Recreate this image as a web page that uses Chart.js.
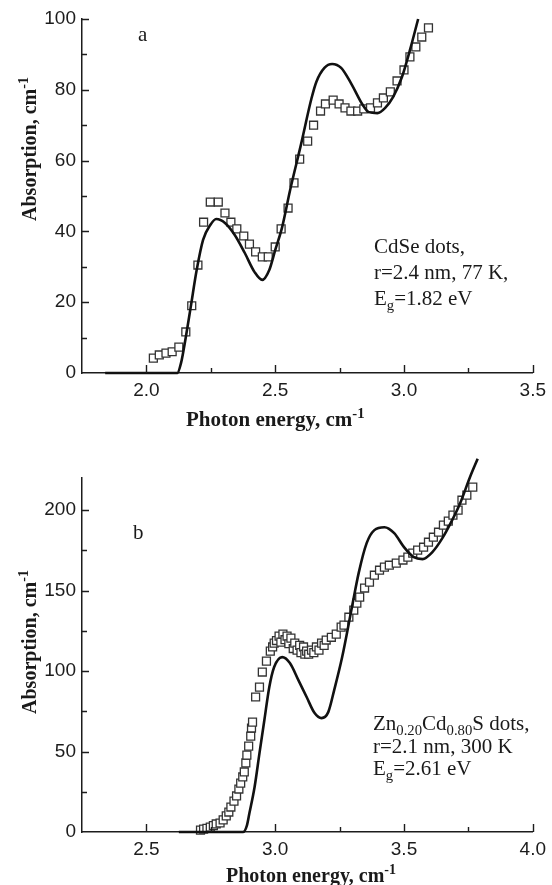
<!DOCTYPE html>
<html lang="en">
<head>
    <meta charset="UTF-8">
    <title>Absorption spectra of CdSe and ZnCdS quantum dots</title>
    <script src="https://cdn.jsdelivr.net/npm/chart.js@4.4.1/dist/chart.umd.min.js"></script>
    <style>
        body { margin: 0; background: #fff; width: 552px; height: 885px; overflow: hidden; position: relative; }
        .panel { position: absolute; left: 0; width: 552px; }
        #panelA { top: 0; height: 440px; }
        #panelB { top: 440px; height: 445px; }
        .txt { position: absolute; font-family: 'Liberation Serif', 'Times New Roman', serif; color: #1a1a1a; white-space: nowrap; }
        .bold { font-weight: bold; }
        .ytitle { transform: translate(-50%, -50%) rotate(-90deg); }
        sup, sub { font-size: 0.7em; line-height: 0; }
    </style>
</head>
<body>
    <div class="panel" id="panelA"><canvas id="chartA"></canvas></div>
    <div class="panel" id="panelB"><canvas id="chartB"></canvas></div>

    <!-- panel a texts -->
    <div class="txt" style="left:138px; top:24px; font-size:21px; line-height:21px;">a</div>
    <div class="txt" style="left:374px; top:233px; font-size:21px; line-height:26px;">
        CdSe dots,<br>r=2.4 nm, 77 K,<br>E<sub>g</sub>=1.82 eV
    </div>
    <div class="txt bold ytitle" style="left:29px; top:149px; font-size:20px; line-height:20px;">Absorption, cm<sup>-1</sup></div>
    <div class="txt bold" style="left:186px; top:409px; font-size:21px; line-height:21px;">Photon energy, cm<sup>-1</sup></div>

    <!-- panel b texts -->
    <div class="txt" style="left:133px; top:522px; font-size:21px; line-height:21px;">b</div>
    <div class="txt" style="left:373px; top:712px; font-size:21px; line-height:22.5px;">
        Zn<sub>0.20</sub>Cd<sub>0.80</sub>S dots,<br>r=2.1 nm, 300 K<br>E<sub>g</sub>=2.61 eV
    </div>
    <div class="txt bold ytitle" style="left:29px; top:642px; font-size:20px; line-height:20px;">Absorption, cm<sup>-1</sup></div>
    <div class="txt bold" style="left:226px; top:865px; font-size:20px; line-height:20px;">Photon energy, cm<sup>-1</sup></div>

    <script>
        // ---- panel a: CdSe dots ----
        const energyFitA = [1.84, 2.12, 2.135, 2.148, 2.172, 2.195, 2.22, 2.248, 2.271, 2.305, 2.343, 2.382, 2.42, 2.45, 2.477, 2.50, 2.527, 2.558, 2.60, 2.641, 2.66, 2.691, 2.721, 2.756, 2.794, 2.84, 2.863, 2.897, 2.927, 2.958, 2.992, 3.023, 3.055];
        const absorbFitA = [0, 0, 3, 8, 18.6, 29, 37.6, 41.8, 43.5, 42.4, 39, 33.9, 28.5, 26.3, 29.1, 34.7, 41.2, 51.7, 64.5, 77.6, 82.3, 86.2, 87.3, 86.2, 81.9, 75.7, 73.7, 73.4, 74.9, 78, 83.6, 91.2, 100];
        const energyDotsA = [2.027, 2.05, 2.076, 2.10, 2.126, 2.153, 2.176, 2.20, 2.222, 2.248, 2.279, 2.305, 2.328, 2.351, 2.378, 2.40, 2.424, 2.45, 2.473, 2.50, 2.523, 2.55, 2.573, 2.595, 2.626, 2.649, 2.676, 2.695, 2.725, 2.748, 2.771, 2.794, 2.82, 2.844, 2.87, 2.897, 2.92, 2.947, 2.973, 3.00, 3.023, 3.046, 3.069, 3.095];
        const absorbDotsA = [4.2, 5.1, 5.6, 6.0, 7.3, 11.6, 19.0, 30.5, 42.6, 48.3, 48.3, 45.2, 42.6, 40.7, 38.7, 36.4, 34.2, 32.8, 32.8, 35.6, 40.7, 46.6, 53.7, 60.4, 65.5, 70.0, 74.0, 76.0, 77.1, 76.0, 74.9, 74.0, 74.0, 74.6, 74.9, 76.3, 77.7, 79.4, 82.5, 85.6, 89.3, 92.1, 94.9, 97.5];
        const xTicksA = [2.0, 2.5, 3.0, 3.5];
        const xMinorA = [2.25, 2.75, 3.25];
        const yTicksA = [0, 20, 40, 60, 80, 100];
        const yMinorA = [10, 30, 50, 70, 90];

        // ---- panel b: Zn0.20Cd0.80S dots ----
        const energyFitB = [2.626, 2.875, 2.89, 2.90, 2.92, 2.939, 2.958, 2.977, 2.996, 3.027, 3.057, 3.09, 3.122, 3.153, 3.18, 3.206, 3.229, 3.26, 3.298, 3.324, 3.355, 3.385, 3.424, 3.462, 3.50, 3.538, 3.572, 3.61, 3.649, 3.687, 3.718, 3.756, 3.786];
        const absorbFitB = [0, 0, 4, 11.8, 28, 49, 69.6, 90, 102.5, 108.7, 105, 94.4, 83.9, 73.9, 70.8, 74.5, 88.2, 108.7, 139.8, 160.9, 179.5, 187.6, 189.4, 185.7, 177, 170.8, 169.6, 173.9, 182.6, 193.8, 204.3, 220.5, 232];
        const energyDotsB = [2.71, 2.722, 2.735, 2.748, 2.76, 2.771, 2.786, 2.798, 2.81, 2.82, 2.828, 2.84, 2.85, 2.859, 2.866, 2.874, 2.88, 2.886, 2.89, 2.897, 2.905, 2.908, 2.912, 2.924, 2.939, 2.95, 2.966, 2.981, 2.99, 2.996, 3.005, 3.015, 3.022, 3.03, 3.038, 3.046, 3.053, 3.061, 3.07, 3.076, 3.085, 3.095, 3.10, 3.11, 3.115, 3.122, 3.13, 3.141, 3.15, 3.16, 3.17, 3.18, 3.19, 3.198, 3.218, 3.237, 3.256, 3.267, 3.286, 3.305, 3.317, 3.328, 3.347, 3.366, 3.385, 3.405, 3.424, 3.443, 3.47, 3.496, 3.515, 3.534, 3.553, 3.576, 3.595, 3.614, 3.634, 3.653, 3.672, 3.69, 3.71, 3.725, 3.744, 3.767];
        const absorbDotsB = [1.2, 1.8, 2.3, 3, 4, 5, 5.6, 7.5, 10, 12.4, 15.5, 19.2, 22.4, 26.7, 30.4, 34.2, 37.3, 42.9, 47.8, 53.4, 59.6, 64.6, 68.3, 83.9, 90, 99.4, 106.2, 112.4, 115, 117.4, 119, 121.7, 118, 123, 119.5, 121.7, 117, 120.5, 114, 117.4, 113, 116, 111.5, 115, 110.5, 112.4, 110.5, 113, 111.5, 115, 113, 117.4, 116, 119.3, 121, 123, 127.3, 128.6, 133.5, 137.9, 142.2, 146, 151.6, 155.3, 159.6, 162.7, 164.6, 165.8, 167.1, 169, 170.8, 173.3, 175.2, 177, 180.1, 183.2, 186.3, 190.7, 193.2, 196.9, 200, 206.2, 209.3, 214.3];
        const xTicksB = [2.5, 3.0, 3.5, 4.0];
        const xMinorB = [2.75, 3.25, 3.75];
        const yTicksB = [0, 50, 100, 150, 200];
        const yMinorB = [25, 75, 125, 175];

        const INK = '#1c1c1c';
        const tickFont = { family: "'Liberation Sans', Arial, sans-serif", size: 19 };

        // tick marks pointing into the plot, like the original figure
        const innerTicks = {
            id: 'innerTicks',
            afterDatasetsDraw(chart, args, opts) {
                const { ctx, chartArea, scales: { x, y } } = chart;
                ctx.save();
                ctx.strokeStyle = INK;
                ctx.lineWidth = 1.4;
                ctx.beginPath();
                const xMark = (v, len) => {
                    const px = Math.round(x.getPixelForValue(v)) + 0.5;
                    ctx.moveTo(px, chartArea.bottom);
                    ctx.lineTo(px, chartArea.bottom - len);
                };
                const yMark = (v, len) => {
                    const py = Math.round(y.getPixelForValue(v)) + 0.5;
                    ctx.moveTo(chartArea.left, py);
                    ctx.lineTo(chartArea.left + len, py);
                };
                opts.xMajor.forEach(v => xMark(v, 8));
                opts.xMinor.forEach(v => xMark(v, 5));
                opts.yMajor.forEach(v => { if (v > 0) yMark(v, 7); });
                opts.yMinor.forEach(v => yMark(v, 5));
                ctx.stroke();
                ctx.restore();
            }
        };

        function toPoints(xs, ys) {
            return xs.map((v, i) => ({ x: v, y: ys[i] }));
        }

        function makeChart(id, cfg) {
            return new Chart(document.getElementById(id), {
                type: 'scatter',
                data: {
                    datasets: [
                        {
                            label: 'calculated',
                            data: toPoints(cfg.fitX, cfg.fitY),
                            showLine: true,
                            pointRadius: 0,
                            borderColor: '#111',
                            borderWidth: 2.6,
                            cubicInterpolationMode: 'monotone',
                            clip: false
                        },
                        {
                            label: 'experiment',
                            data: toPoints(cfg.dotX, cfg.dotY),
                            showLine: false,
                            pointStyle: 'rect',
                            pointRadius: 5.6,
                            backgroundColor: '#fff',
                            borderColor: '#333',
                            borderWidth: 1.3,
                            clip: false
                        }
                    ]
                },
                options: {
                    animation: false,
                    responsive: true,
                    maintainAspectRatio: false,
                    events: [],
                    layout: { padding: { top: cfg.padTop, right: 13, left: 0, bottom: 0 } },
                    plugins: {
                        legend: { display: false },
                        tooltip: { enabled: false },
                        innerTicks: { xMajor: cfg.xTicks, xMinor: cfg.xMinor, yMajor: cfg.yTicks, yMinor: cfg.yMinor }
                    },
                    scales: {
                        x: {
                            type: 'linear',
                            min: cfg.xMin,
                            max: cfg.xMax,
                            afterBuildTicks: s => { s.ticks = cfg.xTicks.map(v => ({ value: v })); },
                            afterFit: s => { s.height = cfg.xAxisHeight; },
                            grid: { display: false, drawTicks: false },
                            border: { display: true, color: INK, width: 1.5 },
                            ticks: {
                                color: INK, font: tickFont, padding: 6,
                                maxRotation: 0, autoSkip: false,
                                callback: v => v.toFixed(1)
                            }
                        },
                        y: {
                            type: 'linear',
                            min: cfg.yMin,
                            max: cfg.yMax,
                            afterBuildTicks: s => { s.ticks = cfg.yTicks.map(v => ({ value: v })); },
                            afterFit: s => { s.width = 82; },
                            grid: { display: false, drawTicks: false },
                            border: { display: true, color: INK, width: 1.5 },
                            ticks: {
                                color: INK, font: tickFont, padding: 6,
                                callback: v => String(v)
                            }
                        }
                    }
                },
                plugins: [innerTicks]
            });
        }

        makeChart('chartA', {
            fitX: energyFitA, fitY: absorbFitA, dotX: energyDotsA, dotY: absorbDotsA,
            xTicks: xTicksA, xMinor: xMinorA, yTicks: yTicksA, yMinor: yMinorA,
            xMin: 1.75, xMax: 3.5, yMin: 0, yMax: 100,
            padTop: 19, xAxisHeight: 67
        });

        makeChart('chartB', {
            fitX: energyFitB, fitY: absorbFitB, dotX: energyDotsB, dotY: absorbDotsB,
            xTicks: xTicksB, xMinor: xMinorB, yTicks: yTicksB, yMinor: yMinorB,
            xMin: 2.25, xMax: 4.0, yMin: 0, yMax: 220,
            padTop: 38, xAxisHeight: 53
        });
    </script>
</body>
</html>
